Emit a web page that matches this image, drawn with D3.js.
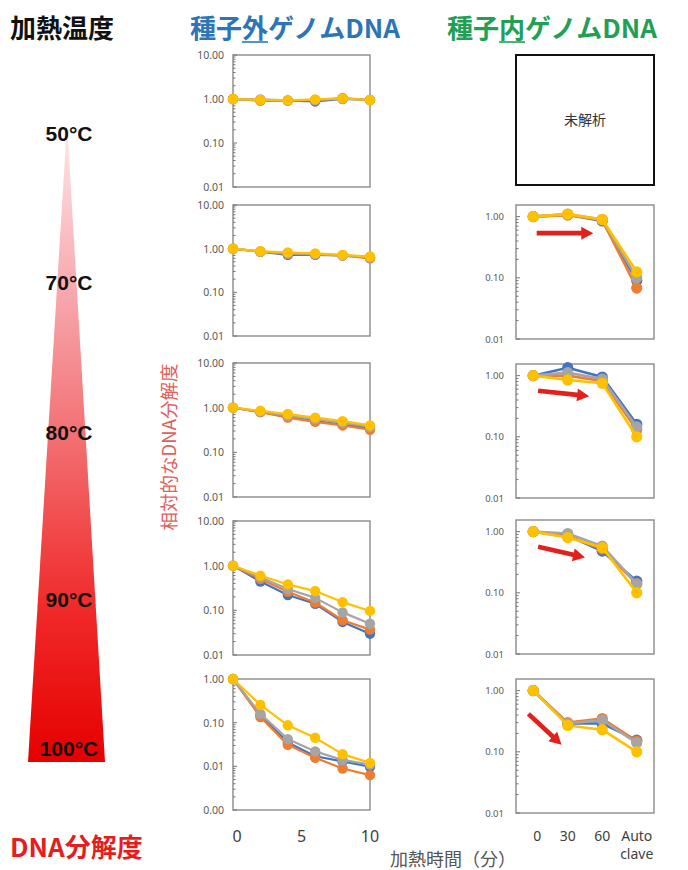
<!DOCTYPE html>
<html>
<head>
<meta charset="utf-8">
<script src="https://cdn.jsdelivr.net/npm/d3@7"></script>
<style>
  body { margin: 0; background: #fff; }
  svg { display: block; }
  text { font-family: "Noto Sans CJK JP", "Noto Sans", sans-serif; }
</style>
</head>
<body>
<svg id="chart" width="688" height="870"></svg>
<script>
// ---- data ----
const temperatures = ["50°C", "70°C", "80°C", "90°C", "100°C"];
const outerTimes = [0, 2, 4, 6, 8, 10];
const outerTimeTicks = [0, 5, 10];
const innerCategories = ["0", "30", "60", "Autoclave"];
const innerCategoryLabels = [["0"], ["30"], ["60"], ["Auto", "clave"]];

// relative DNA amount outside the seed (four replicates per temperature)
const outer50 = [
  [1, 0.92, 0.92, 0.88, 1.00, 0.95],
  [1, 0.95, 0.93, 0.95, 1.05, 0.95],
  [1, 0.98, 0.93, 0.95, 1.02, 0.95],
  [1, 0.95, 0.93, 0.98, 1.03, 0.95]
];
const outer70 = [
  [1, 0.85, 0.72, 0.72, 0.70, 0.62],
  [1, 0.86, 0.76, 0.74, 0.70, 0.60],
  [1, 0.86, 0.78, 0.75, 0.70, 0.63],
  [1, 0.87, 0.82, 0.78, 0.72, 0.66]
];
const outer80 = [
  [1, 0.80, 0.62, 0.50, 0.42, 0.35],
  [1, 0.80, 0.60, 0.48, 0.40, 0.32],
  [1, 0.82, 0.66, 0.55, 0.46, 0.37],
  [1, 0.85, 0.72, 0.60, 0.50, 0.40]
];
const outer90 = [
  [1, 0.44, 0.22, 0.14, 0.055, 0.030],
  [1, 0.50, 0.26, 0.15, 0.060, 0.037],
  [1, 0.55, 0.30, 0.19, 0.090, 0.050],
  [1, 0.60, 0.38, 0.27, 0.153, 0.097]
];
const outer100 = [
  [1, 0.150, 0.035, 0.017, 0.0130, 0.0098],
  [1, 0.135, 0.031, 0.0157, 0.0089, 0.0063],
  [1, 0.160, 0.042, 0.022, 0.0140, 0.0110],
  [1, 0.256, 0.087, 0.045, 0.0190, 0.0120]
];

// relative DNA amount inside the seed (50°C not analysed)
const inner50 = null;
const inner70 = [
  [1, 1.08, 0.85, 0.090],
  [1, 1.06, 0.88, 0.068],
  [1, 1.10, 0.90, 0.100],
  [1, 1.10, 0.90, 0.125]
];
const inner80 = [
  [1, 1.35, 0.95, 0.160],
  [1, 1.00, 0.82, 0.130],
  [1, 1.12, 0.88, 0.145],
  [1, 0.85, 0.75, 0.100]
];
const inner90 = [
  [1, 0.86, 0.48, 0.155],
  [1, 0.83, 0.52, 0.140],
  [1, 0.93, 0.58, 0.140],
  [1, 0.80, 0.55, 0.100]
];
const inner100 = [
  [1, 0.29, 0.29, 0.155],
  [1, 0.30, 0.35, 0.150],
  [1, 0.29, 0.33, 0.140],
  [1, 0.27, 0.23, 0.100]
];

const outerData = [outer50, outer70, outer80, outer90, outer100];
const innerData = [inner50, inner70, inner80, inner90, inner100];

// ---- styling / layout ----
const palette = ["#4472c4", "#ed7d31", "#a5a5a5", "#ffc000"];
const tickColor = "#595959";
const frameColor = "#8a8a8a";

const leftX = [233, 370];
const leftRows = [[55, 187], [205, 336], [363, 497], [521, 655], [679, 810]];
const leftDomains = [[0.01, 10], [0.01, 10], [0.01, 10], [0.01, 10], [0.001, 1]];

const rightX = [516, 654];
const rightRows = [[55, 185], [205, 339], [364, 498], [520, 654], [679, 813]];
const rightDomain = [0.01, 1.55];

// red trend arrows, as fractions of each inner panel
const arrows = [
  null,
  [[0.15, 0.21], [0.56, 0.21]],
  [[0.16, 0.20], [0.53, 0.24]],
  [[0.16, 0.20], [0.50, 0.28]],
  [[0.09, 0.26], [0.33, 0.49]]
];

const svg = d3.select("#chart");
svg.append("rect").attr("width", 688).attr("height", 870).attr("fill", "#fff");

const fmt = d3.format(".2f");

function logTicks(domain) {
  const lo = Math.floor(Math.log10(domain[0]));
  const hi = Math.ceil(Math.log10(domain[1]));
  const major = [], minor = [];
  for (let e = lo; e <= hi; e++) {
    const p = Math.pow(10, e);
    if (p >= domain[0] - 1e-12 && p <= domain[1] + 1e-12) major.push(p);
    for (let m = 2; m <= 9; m++) {
      const v = m * p;
      if (v > domain[0] && v < domain[1]) minor.push(v);
    }
  }
  return { major, minor };
}

function drawPanel(g, x, y, series, opts) {
  const [x0, x1] = x.range();
  const [yb, yt] = y.range();
  const t = logTicks(y.domain());

  // y tick labels
  const ax = g.append("g")
    .attr("transform", `translate(${x0},0)`)
    .call(d3.axisLeft(y).tickValues(t.major).tickFormat(fmt).tickSize(0).tickPadding(opts.pad));
  ax.select(".domain").remove();
  ax.selectAll("text")
    .attr("fill", tickColor)
    .style("font-family", "'Noto Sans', sans-serif")
    .style("font-size", opts.fontSize + "px");

  // frame
  g.append("rect")
    .attr("x", x0).attr("y", yt)
    .attr("width", x1 - x0).attr("height", yb - yt)
    .attr("fill", "none").attr("stroke", frameColor).attr("stroke-width", 1.4);

  // minor and major ticks along the left edge
  g.append("g").selectAll("line").data(t.minor).join("line")
    .attr("x1", x0).attr("x2", x0 + 2.5)
    .attr("y1", d => y(d)).attr("y2", d => y(d))
    .attr("stroke", "#777").attr("stroke-width", 1);
  g.append("g").selectAll("line").data(t.major).join("line")
    .attr("x1", x0).attr("x2", x0 + 4)
    .attr("y1", d => y(d)).attr("y2", d => y(d))
    .attr("stroke", "#777").attr("stroke-width", 1);

  const line = d3.line().x((d, i) => opts.xOf(i)).y(d => y(d));
  series.forEach((vals, si) => {
    const s = g.append("g");
    s.append("path").datum(vals)
      .attr("d", line)
      .attr("fill", "none")
      .attr("stroke", palette[si])
      .attr("stroke-width", opts.lineWidth)
      .attr("stroke-linejoin", "round");
    s.selectAll("circle").data(vals).join("circle")
      .attr("cx", (d, i) => opts.xOf(i))
      .attr("cy", d => y(d))
      .attr("r", opts.r)
      .attr("fill", palette[si]);
  });
}

function drawArrow(g, p0, p1) {
  const dx = p1[0] - p0[0], dy = p1[1] - p0[1];
  const len = Math.hypot(dx, dy);
  const ux = dx / len, uy = dy / len, nx = -uy, ny = ux;
  const hl = 12, hw = 6.5, sw = 2.3;
  const bx = p1[0] - ux * hl, by = p1[1] - uy * hl;
  const pts = [
    [p0[0] + nx * sw, p0[1] + ny * sw],
    [bx + nx * sw, by + ny * sw],
    [bx + nx * hw, by + ny * hw],
    [p1[0], p1[1]],
    [bx - nx * hw, by - ny * hw],
    [bx - nx * sw, by - ny * sw],
    [p0[0] - nx * sw, p0[1] - ny * sw]
  ];
  g.append("path").attr("d", d3.line()(pts) + "Z").attr("fill", "#e3211c");
}

// ---- outer genome panels ----
let lastOuterX;
outerData.forEach((series, i) => {
  const x = d3.scaleLinear().domain([0, 10]).range(leftX);
  const y = d3.scaleLog().domain(leftDomains[i]).range([leftRows[i][1], leftRows[i][0]]);
  drawPanel(svg.append("g"), x, y, series, {
    xOf: k => x(outerTimes[k]), pad: 9, fontSize: 10.5, lineWidth: 2.2, r: 5.2
  });
  lastOuterX = x;
});

// time axis under the outer panels
svg.append("g").selectAll("text").data(outerTimeTicks).join("text")
  .attr("x", d => lastOuterX(d) + (d === 0 ? 4 : 0))
  .attr("y", 842)
  .attr("text-anchor", "middle")
  .attr("fill", "#404040")
  .style("font-family", "'Noto Sans', sans-serif")
  .style("font-size", "16px")
  .text(d => d);

// ---- inner genome panels ----
let lastInnerX;
innerData.forEach((series, i) => {
  const g = svg.append("g");
  if (!series) {
    const [t, b] = rightRows[i];
    g.append("rect")
      .attr("x", rightX[0]).attr("y", t)
      .attr("width", rightX[1] - rightX[0]).attr("height", b - t)
      .attr("fill", "none").attr("stroke", "#111").attr("stroke-width", 2);
    g.append("text")
      .attr("x", (rightX[0] + rightX[1]) / 2).attr("y", (t + b) / 2 + 5)
      .attr("text-anchor", "middle")
      .attr("fill", "#333")
      .style("font-size", "14px")
      .text("未解析");
    return;
  }
  const x = d3.scalePoint().domain(innerCategories).range(rightX).padding(0.5);
  const y = d3.scaleLog().domain(rightDomain).range([rightRows[i][1], rightRows[i][0]]);
  drawPanel(g, x, y, series, {
    xOf: k => x(innerCategories[k]), pad: 12, fontSize: 9.5, lineWidth: 2.6, r: 5.6
  });
  const a = arrows[i];
  if (a) {
    const w = rightX[1] - rightX[0], h = rightRows[i][1] - rightRows[i][0];
    const px = p => [rightX[0] + p[0] * w, rightRows[i][0] + p[1] * h];
    drawArrow(g, px(a[0]), px(a[1]));
  }
  lastInnerX = x;
});

// category axis under the inner panels (multi-line labels as separate rows)
const catG = svg.append("g");
innerCategories.forEach((c, i) => {
  innerCategoryLabels[i].forEach((s, j) => {
    catG.append("text")
      .attr("x", lastInnerX(c) + (i === 0 ? 4 : 0))
      .attr("y", 841 + j * 18)
      .attr("text-anchor", "middle")
      .attr("fill", "#404040")
      .style("font-family", "'Noto Sans', sans-serif")
      .style("font-size", "14px")
      .text(s);
  });
});

svg.append("text")
  .attr("x", 390).attr("y", 866)
  .attr("fill", "#555")
  .style("font-size", "18px")
  .text("加熱時間（分）");

// shared y-axis title
svg.append("text")
  .attr("transform", "translate(176,447) rotate(-90)")
  .attr("text-anchor", "middle")
  .attr("fill", "#e0605a")
  .style("font-size", "18.5px")
  .text("相対的なDNA分解度");

// ---- headings ----
function heading(x, y, str, color, ulIndex, anchor) {
  const t = svg.append("text")
    .attr("x", x).attr("y", y)
    .attr("fill", color)
    .attr("text-anchor", anchor || "start")
    .style("font-size", "26px")
    .style("font-weight", "700")
    .text(str);
  if (ulIndex != null) {
    const node = t.node();
    const a = node.getStartPositionOfChar(ulIndex);
    const b = node.getEndPositionOfChar(ulIndex);
    svg.append("line")
      .attr("x1", a.x).attr("x2", b.x)
      .attr("y1", y + 4).attr("y2", y + 4)
      .attr("stroke", color).attr("stroke-width", 1.6);
  }
}
heading(10, 38, "加熱温度", "#111");
heading(190, 38, "種子外ゲノムDNA", "#2e75b6", 2);
heading(657, 38, "種子内ゲノムDNA", "#21a055", 2, "end");

// ---- temperature wedge ----
const defs = svg.append("defs");
const grad = defs.append("linearGradient")
  .attr("id", "heat").attr("x1", 0).attr("y1", 0).attr("x2", 0).attr("y2", 1);
[[0, "#fde2e4"], [0.25, "#f7a7ad"], [0.5, "#f26a6c"], [0.75, "#f02a2a"], [1, "#e60000"]]
  .forEach(([o, c]) => grad.append("stop").attr("offset", o).attr("stop-color", c));

const wedgeTop = 140, wedgeBottom = 762, wedgeCx = 67;
svg.append("path")
  .attr("d", `M${wedgeCx - 1},${wedgeTop} L${wedgeCx + 1},${wedgeTop} L105,${wedgeBottom} L28,${wedgeBottom} Z`)
  .attr("fill", "url(#heat)");

const tempBaselines = [141, 290, 440, 607, 756];
svg.append("g").selectAll("text").data(temperatures).join("text")
  .attr("x", 69)
  .attr("y", (d, i) => tempBaselines[i])
  .attr("text-anchor", "middle")
  .attr("fill", "#111")
  .style("font-family", "'Liberation Sans', Arial, sans-serif")
  .style("font-weight", "700")
  .style("font-size", "21px")
  .text(d => d);

svg.append("text")
  .attr("x", 10).attr("y", 857)
  .attr("fill", "#e41e1e")
  .style("font-size", "26px")
  .style("font-weight", "700")
  .text("DNA分解度");
</script>
</body>
</html>
